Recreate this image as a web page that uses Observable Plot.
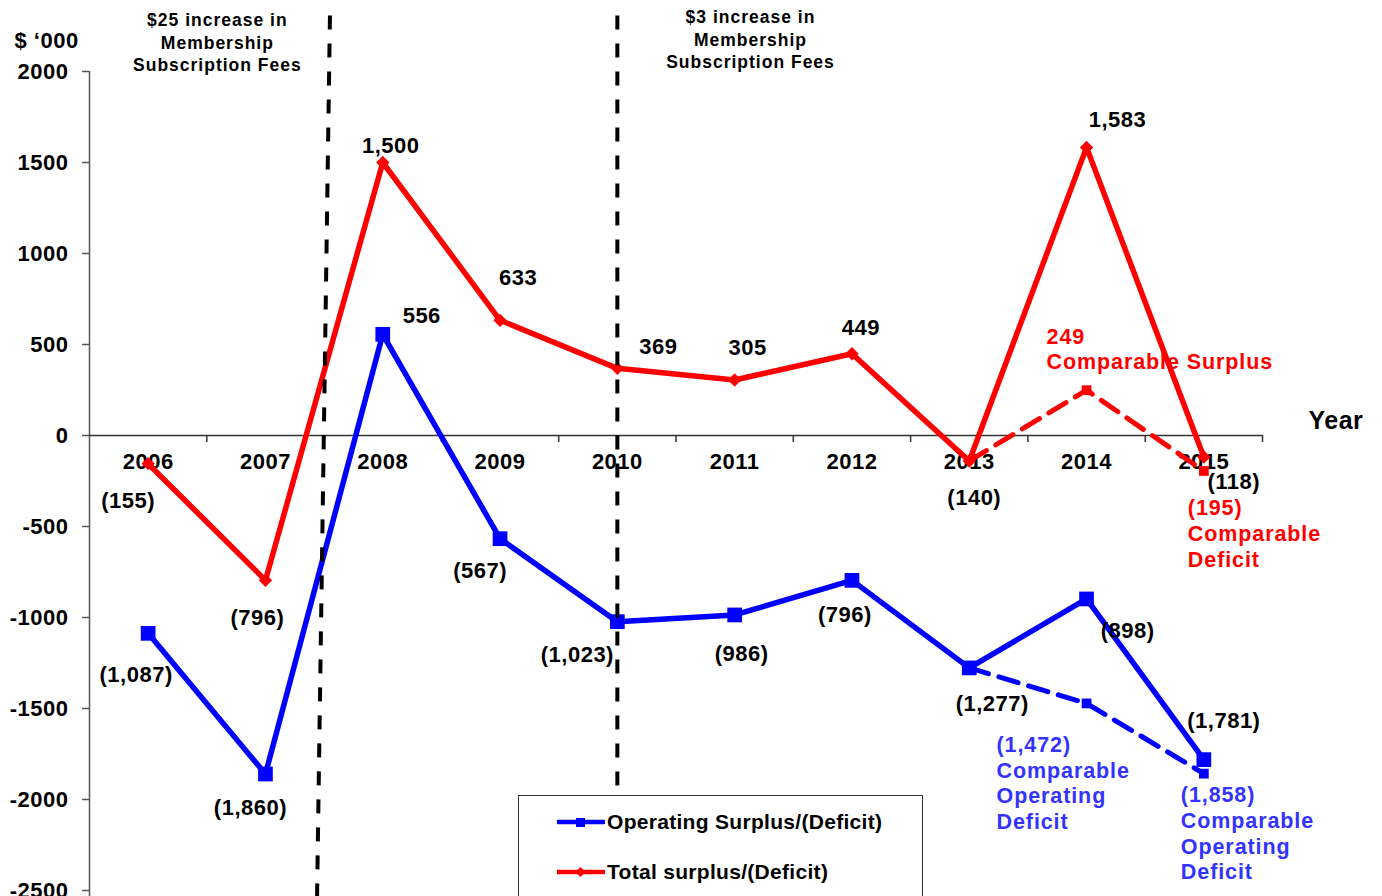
<!DOCTYPE html>
<html><head><meta charset="utf-8">
<script src="https://cdn.jsdelivr.net/npm/d3@7"></script>
<script src="https://cdn.jsdelivr.net/npm/@observablehq/plot@0.6"></script>
<style>
body{margin:0;background:#fff;}
#wrap{position:relative;width:1382px;height:896px;overflow:hidden;font-family:"Liberation Sans",Arial,sans-serif;font-weight:bold;}
#legend{position:absolute;left:518px;top:795px;width:403px;height:140px;border:1.5px solid #333;background:#fff;}
.item{position:absolute;left:38px;display:flex;align-items:center;font-size:21px;letter-spacing:0.3px;color:#000;}
.item svg{margin-right:2px;}
</style></head><body><div id="wrap"><div id="legend"></div></div>
<script>
// ---- data ----
const years = [2006, 2007, 2008, 2009, 2010, 2011, 2012, 2013, 2014, 2015];
const operating = [-1087, -1860, 556, -567, -1023, -986, -796, -1277, -898, -1781];
const total = [-155, -796, 1500, 633, 369, 305, 449, -140, 1583, -118];
const compYears = [2013, 2014, 2015];
const compTotal = [-140, 249, -195];
const compOperating = [-1277, -1472, -1858];
const yTicks = [-2500, -2000, -1500, -1000, -500, 0, 500, 1000, 1500, 2000];
const seriesNames = ["Operating Surplus/(Deficit)", "Total surplus/(Deficit)"];
const topNotes = ["$25 increase in\nMembership\nSubscription Fees", "$3 increase in\nMembership\nSubscription Fees"];
const compTotalNotes = ["249\nComparable Surplus", "(195)\nComparable\nDeficit"];
const compOperatingNotes = ["(1,472)\nComparable\nOperating\nDeficit", "(1,858)\nComparable\nOperating\nDeficit"];

// ---- layout (pixel offsets, not data) ----
const totalOff = [[-20,37],[-8,38],[8,-17],[18,-42],[41,-21],[13,-32],[9,-26],[5,37],[31,-27],[30,25]];
const operOff = [[-12,42],[-15,34],[39,-18],[-20,32],[-40,33],[7,39],[-7,35],[23,36],[41,32],[20,-39]];
const dividerPos = [{x1: 2007.55, x2: 2007.44, y1: 2308, y2: -2533}, {x1: 2010.0, x2: 2010.0, y1: 2308, y2: -2533}];
const topNotePos = [{x: 2006.59, dy: -61}, {x: 2011.135, dy: -64}];

const fmt = v => v < 0 ? "(" + d3.format(",")(-v) + ")" : d3.format(",")(v);
const totalData = years.map((y, i) => ({year: y, value: total[i]}));
const operData = years.map((y, i) => ({year: y, value: operating[i]}));
const compTotalData = compYears.map((y, i) => ({year: y, value: compTotal[i]}));
const compOperData = compYears.map((y, i) => ({year: y, value: compOperating[i]}));
const boundaries = d3.range(years.length).map(i => years[i] + 0.5);

const RED = "#ff0000", BLUE = "#0000ff", BLUE_TXT = "#3333ff";

const labelMarks = [];
totalData.forEach((d, i) => labelMarks.push(Plot.text([d], {x: "year", y: "value", text: d => fmt(d.value), dx: totalOff[i][0], dy: totalOff[i][1], fontSize: 22, fill: "#000"})));
operData.forEach((d, i) => labelMarks.push(Plot.text([d], {x: "year", y: "value", text: d => fmt(d.value), dx: operOff[i][0], dy: operOff[i][1], fontSize: 22, fill: "#000"})));

const noteMarks = [
  Plot.text([compTotalData[1]], {x: "year", y: "value", text: () => compTotalNotes[0], dx: -40, dy: -65, textAnchor: "start", lineAnchor: "top", lineHeight: 1.2, fontSize: 21.5, fill: RED}),
  Plot.text([compTotalData[2]], {x: "year", y: "value", text: () => compTotalNotes[1], dx: -16, dy: 26, textAnchor: "start", lineAnchor: "top", lineHeight: 1.2, fontSize: 21.5, fill: RED}),
  Plot.text([compOperData[1]], {x: "year", y: "value", text: () => compOperatingNotes[0], dx: -90, dy: 30, textAnchor: "start", lineAnchor: "top", lineHeight: 1.2, fontSize: 21.5, fill: BLUE_TXT}),
  Plot.text([compOperData[2]], {x: "year", y: "value", text: () => compOperatingNotes[1], dx: -23, dy: 10, textAnchor: "start", lineAnchor: "top", lineHeight: 1.2, fontSize: 21.5, fill: BLUE_TXT}),
  ...topNotes.map((t, i) => Plot.text([t], {x: () => topNotePos[i].x, frameAnchor: "top", text: d => d, dy: topNotePos[i].dy, lineAnchor: "top", lineHeight: 1.27, fontSize: 17.5, fill: "#000"}))
];

const chart = Plot.plot({
  width: 1382, height: 896,
  marginLeft: 89, marginRight: 120, marginTop: 71, marginBottom: 6,
  x: {domain: [2005.5, 2015.5], axis: null},
  y: {domain: [-2500, 2000], axis: null},
  style: {fontFamily: "'Liberation Sans', Arial, sans-serif", fontWeight: "bold", color: "#000", background: "#fff", overflow: "visible", letterSpacing: "0.5px"},
  marks: [
    Plot.ruleX([2005.5], {stroke: "#555", strokeWidth: 1.5, insetBottom: -6}),
    Plot.axisY(yTicks, {anchor: "left", tickSize: 7, tickPadding: 14, tickFormat: d => String(d), fontSize: 22, fontWeight: "bold", label: null, stroke: "#555", strokeWidth: 1.5}),
    Plot.ruleY([0], {x1: 2005.5, x2: 2015.5, stroke: "#333", strokeWidth: 1.5}),
    Plot.ruleX(boundaries, {y1: 0, y2: 0, insetBottom: -7, stroke: "#333", strokeWidth: 1.5}),
    Plot.text(years, {x: d => d, y: 0, dy: 26, text: d => String(d), fontSize: 22, fill: "#000"}),
    Plot.text(["Year"], {x: 2015.5, y: 0, dx: 46, dy: -15, text: d => d, textAnchor: "start", fontSize: 25, fill: "#000"}),
    Plot.text(["$ \u2018000"], {frameAnchor: "top-left", text: d => d, dx: -75, dy: -31, textAnchor: "start", lineAnchor: "middle", fontSize: 22, fill: "#000"}),
    Plot.line(compTotalData, {x: "year", y: "value", stroke: RED, strokeWidth: 5, strokeDasharray: "20 11"}),
    Plot.line(compOperData, {x: "year", y: "value", stroke: BLUE, strokeWidth: 5, strokeDasharray: "20 11"}),
    Plot.dot(compTotalData.slice(1), {x: "year", y: "value", symbol: "square", r: 5.5, fill: RED}),
    Plot.dot(compOperData.slice(1), {x: "year", y: "value", symbol: "square", r: 5.5, fill: BLUE}),
    Plot.line(totalData, {x: "year", y: "value", stroke: RED, strokeWidth: 5.5}),
    Plot.line(operData, {x: "year", y: "value", stroke: BLUE, strokeWidth: 5.5}),
    Plot.dot(totalData, {x: "year", y: "value", symbol: "diamond2", r: 6, fill: RED}),
    Plot.dot(operData, {x: "year", y: "value", symbol: "square", r: 8.3, fill: BLUE}),
    Plot.link(dividerPos, {x1: "x1", y1: "y1", x2: "x2", y2: "y2", stroke: "#000", strokeWidth: 4, strokeDasharray: "14 14"}),
    ...labelMarks,
    ...noteMarks
  ]
});
d3.select(chart).selectAll("text").filter(function() { return /Membership|increase/.test(this.textContent); }).style("letter-spacing", "1px");
d3.select(chart).selectAll("text").filter(function() { return /Comparable/.test(this.textContent); }).style("letter-spacing", "0.9px");

const wrap = document.getElementById("wrap");
const legend = document.getElementById("legend");
wrap.insertBefore(chart, legend);

const swatches = [
  {color: BLUE, top: 14, shape: '<rect x="19" y="4" width="9" height="9" fill="' + BLUE + '"/>'},
  {color: RED, top: 64, shape: '<rect x="20" y="4.5" width="7" height="7" transform="rotate(45 23.5 8)" fill="' + RED + '"/>'}
];
seriesNames.forEach((name, i) => {
  const s = swatches[i];
  const div = document.createElement("div");
  div.className = "item";
  div.style.top = s.top + "px";
  div.innerHTML = '<svg width="48" height="16"><line x1="1" y1="8" x2="47" y2="8" stroke="' + s.color + '" stroke-width="4.5" stroke-linecap="round"/>' + s.shape + '</svg><span>' + name + '</span>';
  legend.appendChild(div);
});
</script>
</body></html>
